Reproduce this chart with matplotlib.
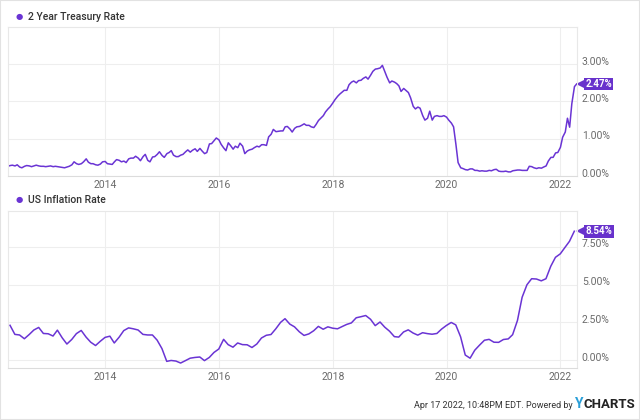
import matplotlib
matplotlib.use("Agg")
import matplotlib.pyplot as plt
import matplotlib.transforms as mtransforms
from matplotlib.patches import Rectangle
import pandas as pd

plt.rcParams['font.family'] = ['Roboto', 'DejaVu Sans']

purple = '#6a34d4'
tag_purple = '#6832cc'
grid_col = '#eeeeee'
tick_col = '#6b6b6b'

# 2 year treasury rate, 1st and 15th of each month, Apr 2012 - Apr 2022
treasury_dates = pd.date_range('2012-04-01', '2022-04-15', freq='SMS')
treasury = [
    0.27, 0.26, 0.28, 0.29, 0.27, 0.30, 0.24, 0.22, 0.26, 0.28, 0.27, 0.25, 0.27, 0.29, 0.27, 0.26, 0.26, 0.25,
    0.26, 0.27, 0.25, 0.26, 0.25, 0.24, 0.23, 0.22, 0.24, 0.26, 0.30, 0.38, 0.33, 0.31, 0.33, 0.38, 0.46, 0.37, 0.33, 0.33, 0.30, 0.29, 0.32, 0.38,
    0.39, 0.33, 0.32, 0.31, 0.38, 0.44, 0.42, 0.38, 0.40, 0.36, 0.46, 0.48, 0.48, 0.53, 0.48, 0.41, 0.52, 0.58, 0.42, 0.38, 0.51, 0.52, 0.58, 0.65,
    0.55, 0.50, 0.60, 0.63, 0.68, 0.56, 0.52, 0.52, 0.56, 0.58, 0.65, 0.70, 0.64, 0.69, 0.73, 0.66, 0.74, 0.67, 0.60, 0.63, 0.86, 0.87, 0.95, 1.02,
    0.97, 0.85, 0.75, 0.68, 0.89, 0.82, 0.72, 0.80, 0.76, 0.88, 0.80, 0.60, 0.67, 0.70, 0.72, 0.76, 0.80, 0.78, 0.84, 0.84, 0.82, 1.05, 1.12, 1.25,
    1.19, 1.20, 1.21, 1.21, 1.32, 1.33, 1.26, 1.18, 1.28, 1.32, 1.33, 1.36, 1.40, 1.36, 1.36, 1.32, 1.30, 1.38, 1.49, 1.55, 1.62, 1.72, 1.80, 1.86,
    1.96, 2.05, 2.14, 2.20, 2.25, 2.30, 2.30, 2.45, 2.52, 2.55, 2.50, 2.56, 2.57, 2.62, 2.66, 2.60, 2.71, 2.81, 2.87, 2.88, 2.90, 2.97, 2.80, 2.65,
    2.50, 2.55, 2.52, 2.48, 2.42, 2.27, 2.35, 2.30, 2.24, 2.10, 1.87, 1.80, 1.85, 1.82, 1.62, 1.50, 1.55, 1.74, 1.50, 1.60, 1.62, 1.60, 1.60, 1.62,
    1.58, 1.50, 1.42, 1.32, 0.85, 0.36, 0.22, 0.20, 0.17, 0.16, 0.19, 0.19, 0.15, 0.15, 0.13, 0.14, 0.13, 0.13, 0.15, 0.14, 0.17, 0.18, 0.13, 0.12,
    0.12, 0.13, 0.11, 0.11, 0.14, 0.15, 0.16, 0.16, 0.15, 0.15, 0.15, 0.26, 0.25, 0.22, 0.20, 0.22, 0.21, 0.24, 0.27, 0.40, 0.50, 0.50, 0.62, 0.63,
    0.77, 1.04, 1.18, 1.55, 1.31, 1.94, 2.40, 2.47,
]

# US inflation rate (CPI yoy), monthly Apr 2012 - Mar 2022
inflation_dates = pd.date_range('2012-04-30', periods=120, freq='ME')
inflation = [
    2.30, 1.70, 1.66, 1.41, 1.69, 1.99, 2.16, 1.76, 1.74,
    1.59, 1.98, 1.47, 1.06, 1.36, 1.75, 1.96, 1.52, 1.18, 0.96, 1.24, 1.50,
    1.58, 1.13, 1.51, 1.95, 2.13, 2.07, 1.99, 1.70, 1.66, 1.66, 1.32, 0.76,
    -0.09, -0.03, -0.07, -0.20, -0.04, 0.12, 0.17, 0.20, -0.04, 0.17, 0.50, 0.73,
    1.37, 1.02, 0.85, 1.13, 1.02, 1.01, 0.83, 1.06, 1.46, 1.64, 1.69, 2.07,
    2.50, 2.74, 2.38, 2.20, 1.87, 1.63, 1.73, 1.94, 2.23, 2.04, 2.20, 2.11,
    2.07, 2.21, 2.36, 2.46, 2.80, 2.87, 2.95, 2.70, 2.28, 2.52, 2.18, 1.91,
    1.55, 1.52, 1.86, 2.00, 1.79, 1.65, 1.81, 1.75, 1.71, 1.76, 2.05, 2.29,
    2.49, 2.33, 1.54, 0.33, 0.12, 0.65, 0.99, 1.31, 1.37, 1.18, 1.17, 1.36,
    1.40, 1.68, 2.62, 4.16, 4.99, 5.39, 5.37, 5.25, 5.39, 6.22, 6.81, 7.04,
    7.48, 7.87, 8.54,
]

year_ticks = pd.to_datetime(['2014-01-01', '2016-01-01', '2018-01-01', '2020-01-01', '2022-01-01'])
year_labels = ['2014', '2016', '2018', '2020', '2022']

fig = plt.figure(figsize=(6.4, 4.2), dpi=100)
ax1 = fig.add_axes([0.0125, 0.581, 0.889, 0.3547])
ax2 = fig.add_axes([0.0125, 0.1238, 0.889, 0.3738])


def style_axis(ax, yticks, ylim):
    ax.set_xlim(pd.Timestamp('2012-04-17'), pd.Timestamp('2022-04-17'))
    ax.set_ylim(*ylim)
    ax.set_xticks(year_ticks)
    ax.set_xticklabels(year_labels)
    ax.set_yticks(yticks)
    ax.set_yticklabels(['%.2f%%' % t for t in yticks])
    ax.yaxis.tick_right()
    ax.tick_params(length=0, labelsize=7.5, labelcolor=tick_col)
    ax.tick_params(axis='x', pad=3)
    ax.tick_params(axis='y', pad=3.5)
    # labels sit a little above their grid lines
    lift = mtransforms.ScaledTranslation(0, 2.5 / 72, fig.dpi_scale_trans)
    for lab in ax.get_yticklabels():
        lab.set_transform(lab.get_transform() + lift)
    ax.grid(True, color=grid_col, linewidth=0.8)
    ax.set_axisbelow(True)
    for s in ax.spines.values():
        s.set_color('#e8e8e8')
        s.set_linewidth(0.8)
    ax.spines['bottom'].set_color('#dcdcdc')


def value_tag(ax, value):
    trans = mtransforms.blended_transform_factory(ax.transAxes, ax.transData)
    tip = mtransforms.offset_copy(trans, fig=fig, x=3.5, y=0, units='dots')
    ax.plot([1.0], [value], marker='<', markersize=6, color=tag_purple,
            transform=tip, clip_on=False, markeredgewidth=0)
    ax.annotate('%.2f%%' % value, xy=(1.0, value), xycoords=trans,
                xytext=(6, 0), textcoords='offset points', ha='left', va='center',
                fontsize=7, fontweight='bold', color='white',
                bbox=dict(boxstyle='square,pad=0.15', fc=tag_purple, ec='none'))


ax1.plot(treasury_dates, treasury, color=purple, linewidth=1.1)
style_axis(ax1, [0, 1, 2, 3], (0, 4.0))
value_tag(ax1, treasury[-1])

ax2.plot(inflation_dates, inflation, color=purple, linewidth=1.1)
style_axis(ax2, [0, 2.5, 5, 7.5], (-0.53, 9.88))
value_tag(ax2, inflation[-1])

# legends
fig.text(0.0297, 1 - 17 / 420, '\u25cf', color=purple, fontsize=6, ha='center', va='center')
fig.text(0.044, 1 - 17 / 420, '2 Year Treasury Rate', color='#333333', fontsize=7.5,
         fontweight='medium', ha='left', va='center')
fig.text(0.0297, 1 - 200 / 420, '\u25cf', color=purple, fontsize=6, ha='center', va='center')
fig.text(0.044, 1 - 200 / 420, 'US Inflation Rate', color='#333333', fontsize=7.5,
         fontweight='medium', ha='left', va='center')

# footer
fig.text(573 / 640, 1 - 405 / 420, 'Apr 17 2022, 10:48PM EDT. Powered by', color='#333333',
         fontsize=6.5, ha='right', va='center')
fig.text(575 / 640, 1 - 404 / 420, 'Y', color='#2a9fd8', fontsize=10, fontweight='bold', ha='left', va='center')
fig.text(584 / 640, 1 - 404 / 420, 'CHARTS', color='#222222', fontsize=9.5, fontweight='bold',
         ha='left', va='center')

fig.patches.append(Rectangle((0, 0), 1, 1, transform=fig.transFigure, fill=False,
                             edgecolor='#e2e2e2', linewidth=1.5))

fig.savefig('out.png', dpi=100)
